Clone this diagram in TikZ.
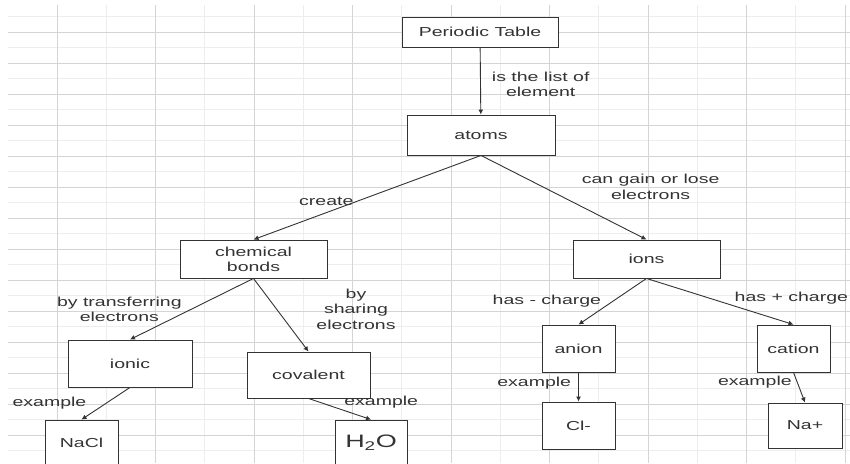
\documentclass[tikz,border=0pt]{standalone}
\usepackage{fontspec}
\setmainfont{Liberation Sans}[FakeStretch=1.5]
\usepackage{xcolor}
\usepackage{tikz}
\usetikzlibrary{arrows.meta, positioning}
\definecolor{inkgray}{HTML}{333333}
\definecolor{gridmajor}{HTML}{D4D4D4}
\definecolor{gridminor}{HTML}{EDEDED}
\tikzset{
  concept/.style={rectangle, draw=inkgray, fill=white, line width=0.9pt,
                  align=center, font=\fontsize{13}{15}\selectfont,
                  text=inkgray, inner sep=2pt},
  arrow/.style={-{Latex[length=5pt, width=5pt]}, draw=inkgray, line width=0.9pt},
  linklabel/.style={font=\fontsize{13}{15.5}\selectfont, text=inkgray,
                    align=center, inner sep=1pt},
}

\begin{document}
\begin{tikzpicture}[x=1pt, y=-1pt]
  \useasboundingbox (0,0) rectangle (850,463);
  % Grid paper
  \foreach \gx in {106.25,204.75,...,800} \draw[gridminor, line width=0.8pt] (\gx,5) -- (\gx,463);
  \foreach \gy in {16.5,47.5,...,460} \draw[gridminor, line width=0.8pt] (8,\gy) -- (850,\gy);
  \foreach \gx in {57,155.5,...,850} \draw[gridmajor, line width=0.9pt] (\gx,5) -- (\gx,463);
  \foreach \gy in {32,63,...,460} \draw[gridmajor, line width=0.9pt] (8,\gy) -- (850,\gy);

  % Nodes
  \node[concept, minimum width=156pt, minimum height=30pt] (periodic) at (480,32) {Periodic Table};
  \node[concept, minimum width=148pt, minimum height=40pt] (atoms) at (481,135) {atoms};
  \node[concept, minimum width=147pt, minimum height=38pt] (bonds) at (253.5,259) {chemical\\bonds};
  \node[concept, minimum width=147pt, minimum height=38pt] (ions) at (646.5,259) {ions};
  \node[concept, minimum width=124pt, minimum height=47pt] (ionic) at (130,363.5) {ionic};
  \node[concept, minimum width=123pt, minimum height=46pt] (covalent) at (308.5,375) {covalent};
  \node[concept, minimum width=73pt, minimum height=46pt] (nacl) at (81.5,443) {NaCl};
  \node[concept, minimum width=72pt, minimum height=46pt, font=\fontsize{18}{20}\selectfont] (water) at (371,443) {H\textsubscript{2}O};
  \node[concept, minimum width=73pt, minimum height=47pt] (anion) at (578.5,348.5) {anion};
  \node[concept, minimum width=73pt, minimum height=47pt] (cation) at (793.5,348.5) {cation};
  \node[concept, minimum width=73pt, minimum height=47pt] (chloride) at (578.5,425.5) {Cl-};
  \node[concept, minimum width=74pt, minimum height=45pt] (sodium) at (805,425.5) {Na+};

  % Edges
  \draw[arrow] (periodic) -- node[linklabel, pos=0.55, right, xshift=10pt] {is the list of\\element} (atoms);
  \draw[arrow] (atoms.south) -- node[linklabel, pos=0.68, above, yshift=6pt] {create} (bonds.north);
  \draw[arrow] (atoms.south) -- node[linklabel, pos=0.6, above right, yshift=5pt] {can gain or lose\\electrons} (ions.north);
  \draw[arrow] (bonds.south) -- node[linklabel, pos=0.57, left, yshift=4pt] {by transferring\\electrons} (ionic.north);
  \draw[arrow] (bonds.south) -- node[linklabel, pos=0.5, right, xshift=34pt, yshift=6pt] {by\\sharing\\electrons} (covalent.north);
  \draw[arrow] (ionic.south) -- node[linklabel, pos=0.5, left, xshift=-18pt] {example} (nacl.north);
  \draw[arrow] (covalent.south) -- node[linklabel, pos=0.55, above right] {example} (water.north);
  \draw[arrow] (ions.south) -- node[linklabel, pos=0.5, left, xshift=-10pt] {has - charge} (anion.north);
  \draw[arrow] (ions.south) -- node[linklabel, pos=0.59, above right] {has + charge} (cation.north);
  \draw[arrow] (anion) -- node[linklabel, pos=0.35, left, xshift=-6pt] {example} (chloride);
  \draw[arrow] (cation.south) -- node[linklabel, pos=0.32, left, xshift=-4pt] {example} (sodium.north);

\end{tikzpicture}
\end{document}
